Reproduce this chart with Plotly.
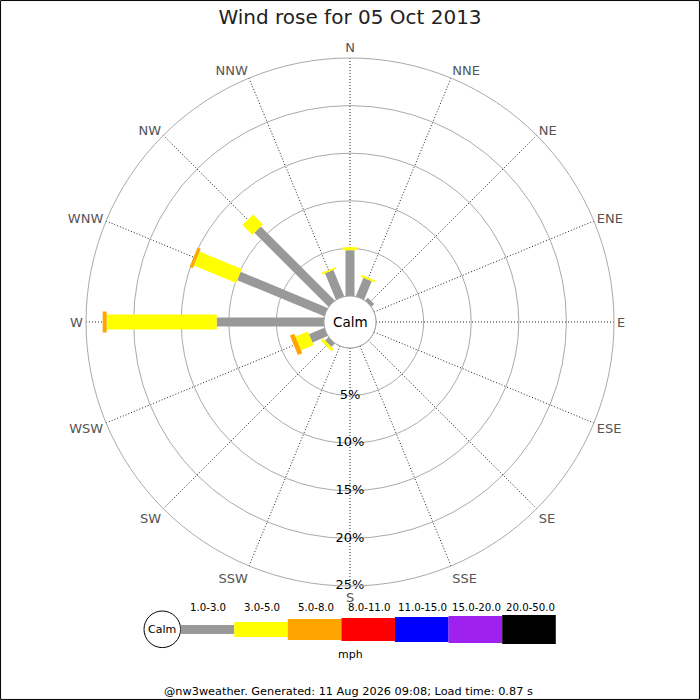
import plotly.graph_objects as go

# 16 compass points, clockwise from north
directions = ["N", "NNE", "NE", "ENE", "E", "ESE", "SE", "SSE",
              "S", "SSW", "SW", "WSW", "W", "WNW", "NW", "NNW"]
angles = [i * 22.5 for i in range(16)]

# percentage of the day in each speed band, per direction
pct_1_3 = [4.8, 2.1, 0.4, 0, 0, 0, 0, 0, 0, 0, 0.5, 1.75, 11.27, 9.9, 11.0, 3.0]
pct_3_5 = [0.32, 0.22, 0, 0, 0, 0, 0, 0, 0, 0, 0.32, 1.4, 11.56, 4.8, 1.45, 0.18]
pct_5_8 = [0, 0, 0, 0, 0, 0, 0, 0, 0, 0, 0, 0.5, 0.42, 0.35, 0, 0]

bands = ["1.0-3.0", "3.0-5.0", "5.0-8.0", "8.0-11.0", "11.0-15.0", "15.0-20.0", "20.0-50.0"]
band_colors = ["#999999", "#ffff00", "#ffa500", "#ff0000", "#0000ff", "#a020f0", "#000000"]
band_widths = [9, 15, 21, 23, 25, 27, 29]

ring_vals = [5, 10, 15, 20, 25]
ring_text = ["5%", "10%", "15%", "20%", "25%"]

W = H = 700
cx, cy, R = 350, 322, 264
calm_r = 26


def px(x):
    return x / W


def py(y):
    return 1 - y / H


def label(x, y, text, size):
    return dict(x=px(x), y=py(y), xref="paper", yref="paper", text=text,
                showarrow=False, xanchor="center", yanchor="middle",
                font=dict(family="DejaVu Sans", size=size, color="#000000"))


fig = go.Figure()

# calm circle at r=0 (edge of the hole)
circ = [i * 5 for i in range(73)]
fig.add_trace(go.Scatterpolar(r=[0] * len(circ), theta=circ, mode="lines",
                              line=dict(color="#888888", width=1),
                              hoverinfo="skip", showlegend=False))

# stacked rose bars drawn as thick radial strokes
series = [pct_1_3, pct_3_5, pct_5_8]
base = [0.0] * 16
for k, vals in enumerate(series):
    rr, tt = [], []
    for i in range(16):
        if vals[i] > 0:
            rr += [base[i], base[i] + vals[i], None]
            tt += [angles[i], angles[i], None]
            base[i] += vals[i]
    fig.add_trace(go.Scatterpolar(r=rr, theta=tt, mode="lines",
                                  line=dict(color=band_colors[k], width=band_widths[k]),
                                  connectgaps=False, hoverinfo="skip", showlegend=False))

# percentage ring labels down the south spoke
fig.add_trace(go.Scatterpolar(r=ring_vals, theta=[180] * len(ring_vals), mode="text",
                              text=ring_text, textposition="middle center",
                              textfont=dict(family="DejaVu Sans", size=13, color="#000000"),
                              cliponaxis=False, hoverinfo="skip", showlegend=False))

shapes = []
annotations = []

# legend: calm circle + growing coloured blocks
shapes.append(dict(type="circle", xref="paper", yref="paper",
                   x0=px(144), x1=px(180.6), y0=py(647.6), y1=py(611),
                   line=dict(color="#000000", width=1), fillcolor="white"))
annotations.append(label(162.3, 629.5, "Calm", 11))
x_left = 180.6
step = 53.6
for k in range(len(bands)):
    x0 = x_left + k * step
    x1 = x0 + step
    h = band_widths[k]
    shapes.append(dict(type="rect", xref="paper", yref="paper",
                       x0=px(x0), x1=px(x1), y0=py(629.5 + h / 2), y1=py(629.5 - h / 2),
                       line=dict(width=0), fillcolor=band_colors[k]))
    annotations.append(label((x0 + x1) / 2 + 1, 607, bands[k], 10.2))
annotations.append(label(350, 654, "mph", 11))
annotations.append(label(348, 691, "@nw3weather. Generated: 11 Aug 2026 09:08; Load time: 0.87 s", 11.3))
annotations.append(label(cx, cy, "Calm", 13.5))

# outer border
shapes.append(dict(type="rect", xref="paper", yref="paper",
                   x0=0.0008, x1=0.9992, y0=0.0008, y1=0.9992,
                   line=dict(color="#000000", width=1)))

fig.update_layout(
    width=W, height=H,
    margin=dict(l=0, r=0, t=0, b=0),
    paper_bgcolor="white",
    font=dict(family="DejaVu Sans"),
    title=dict(text="Wind rose for 05 Oct 2013", x=0.5, xanchor="center",
               y=py(17), yanchor="middle", yref="container",
               font=dict(family="DejaVu Sans", size=20, color="#222222")),
    polar=dict(
        domain=dict(x=[px(cx - R), px(cx + R)], y=[py(cy + R), py(cy - R)]),
        bgcolor="white",
        hole=calm_r / R,
        radialaxis=dict(range=[0, 25], tickvals=ring_vals, showticklabels=False,
                        ticks="", showline=False, gridcolor="#aaaaaa", gridwidth=1),
        angularaxis=dict(rotation=90, direction="clockwise", tickvals=angles,
                         ticktext=directions, ticks="", showline=True,
                         linecolor="#aaaaaa", linewidth=1,
                         gridcolor="#222222", gridwidth=0.7, griddash="1px,2px",
                         tickfont=dict(family="DejaVu Sans", size=13, color="#555555")),
    ),
    shapes=shapes,
    annotations=annotations,
)

fig.write_html("out.html", config={"displayModeBar": False},
               post_script="document.body.style.margin='0';")
